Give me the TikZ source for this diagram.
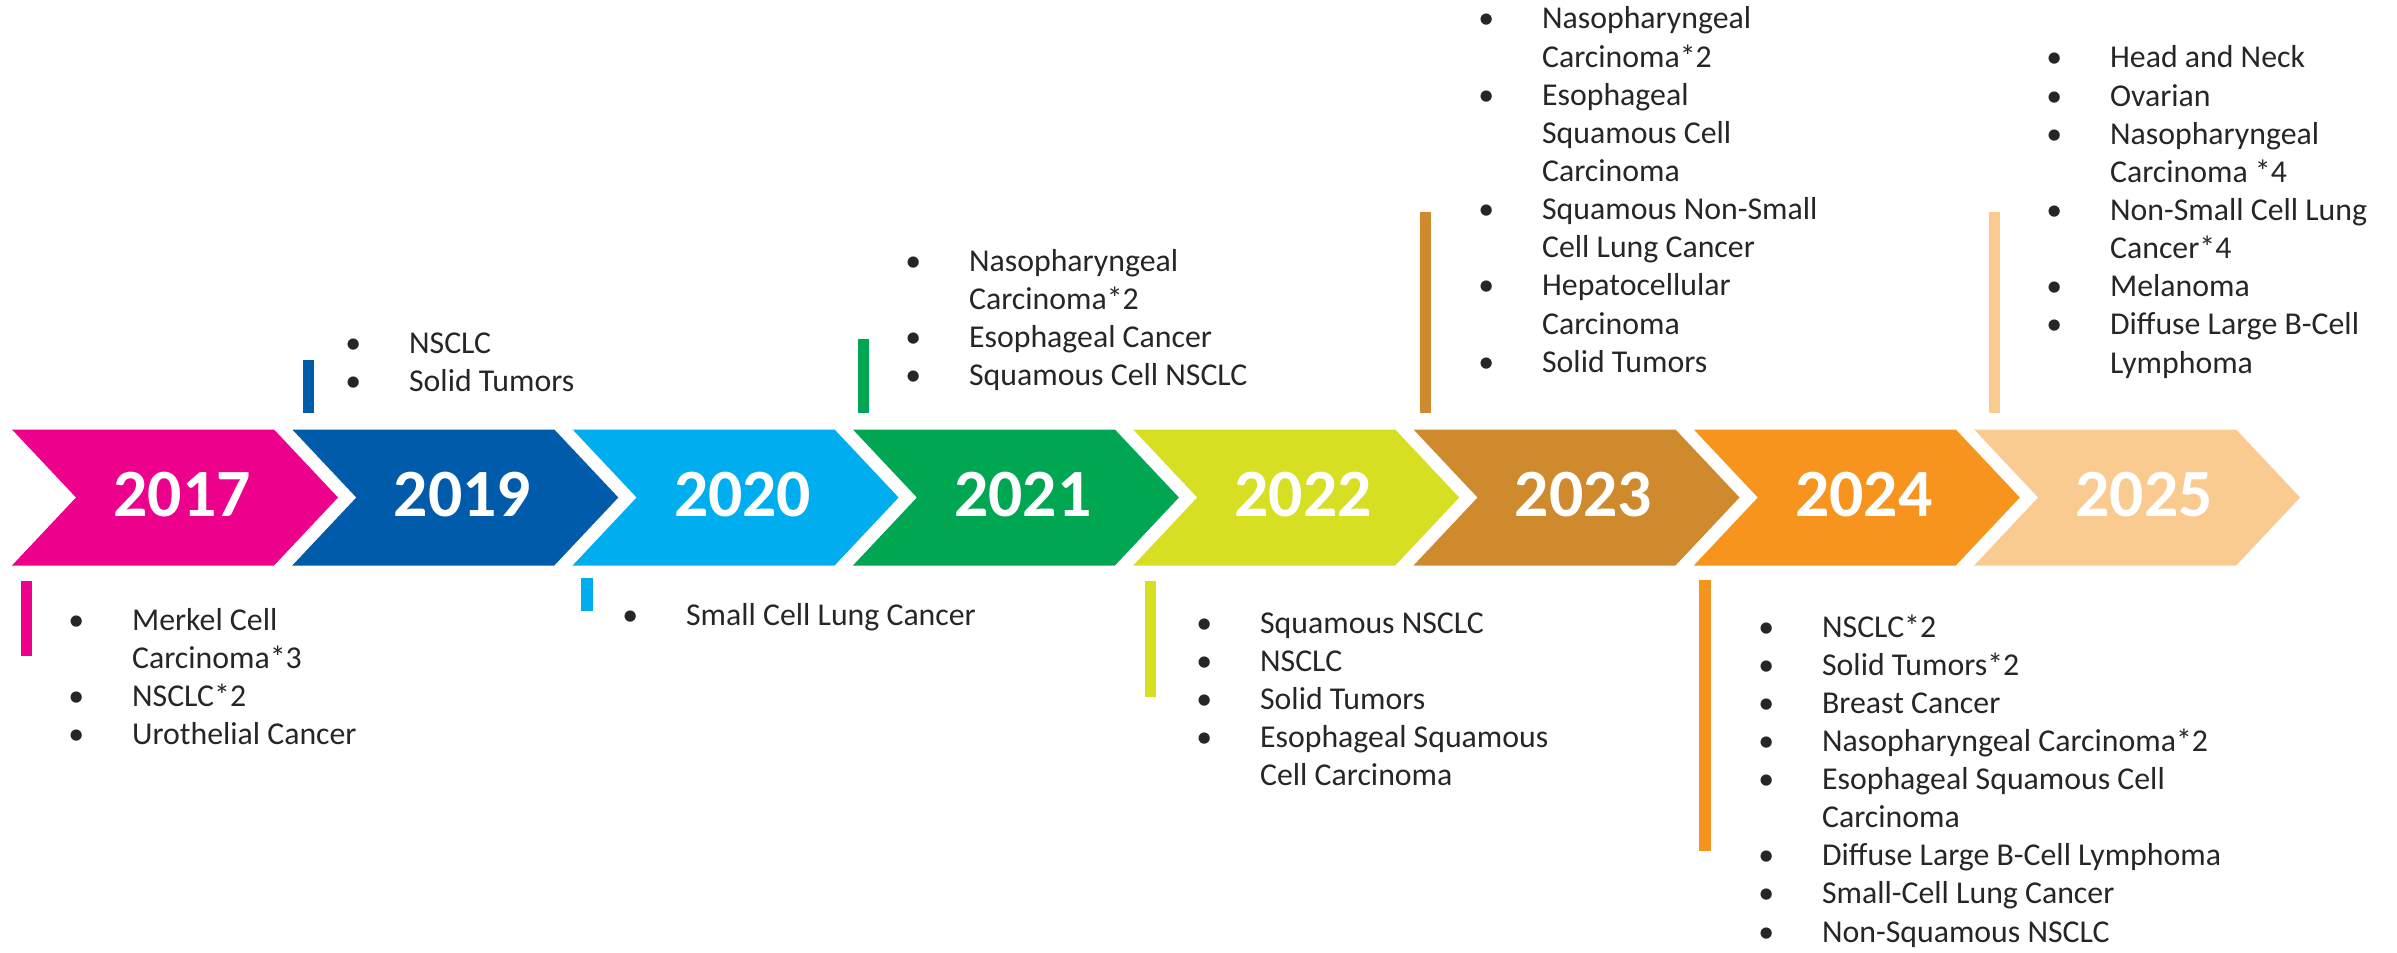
\documentclass[tikz,border=0pt]{standalone}
\usepackage{fontspec}
\setmainfont{Carlito}
\usetikzlibrary{positioning}
\definecolor{c2017}{HTML}{EC008C}
\definecolor{c2019}{HTML}{005BAA}
\definecolor{c2020}{HTML}{00AEEF}
\definecolor{c2021}{HTML}{00A651}
\definecolor{c2022}{HTML}{D7DF23}
\definecolor{c2023}{HTML}{CF8A2E}
\definecolor{c2024}{HTML}{F7941D}
\definecolor{c2025}{HTML}{FACB91}
\definecolor{txt}{HTML}{262626}
\newlength{\bulw}\setlength{\bulw}{36.3pt}
\newcommand{\itm}[1]{\makebox[\bulw][l]{\textbullet}#1}
\newcommand{\cnt}[1]{\makebox[\bulw]{}#1}
\newcommand{\blist}[1]{\begin{tabular}[t]{@{}l@{}}#1\end{tabular}}

\begin{document}
\begin{tikzpicture}[
  x=0.02cm, y=-0.02cm,
  yr/.style={font=\fontsize{38.5}{40}\selectfont\bfseries, text=white, inner sep=0pt},
  lst/.style={anchor=base west, inner sep=0pt, text=txt, font=\fontsize{18.1}{21.7}\selectfont}
]
  \useasboundingbox (0,0) rectangle (2397,953);
  % year chevrons
  \foreach \yr [count=\i from 0] in {2017,2019,2020,2021,2022,2023,2024,2025} {
    \pgfmathsetmacro{\L}{12+280.3*\i}
    \fill[c\yr] (\L,429.5) -- ++(262,0) -- ++(64,68) -- ++(-64,68) -- ++(-262,0) -- ++(64,-68) -- cycle;
    \node[yr] (y\yr) at (\L+170,495) {\yr};
  }
  % marker bars
  \fill[c2017] (21,581) rectangle (32,656);
  \fill[c2019] (303,360) rectangle (314,413);
  \fill[c2020] (581,578) rectangle (593,611);
  \fill[c2021] (858,339) rectangle (869,413);
  \fill[c2022] (1145,581) rectangle (1156,697);
  \fill[c2023] (1420,212) rectangle (1431,413);
  \fill[c2024] (1699,580) rectangle (1711,851);
  \fill[c2025] (1989,212) rectangle (2000,413);
  % indications
  \node[lst] (l2017) at (68,630) {\blist{\itm{Merkel Cell}\\\cnt{Carcinoma*3}\\\itm{NSCLC*2}\\\itm{Urothelial Cancer}}};
  \node[lst] (l2019) at (345,353) {\blist{\itm{NSCLC}\\\itm{Solid Tumors}}};
  \node[lst] (l2020) at (622,625) {\blist{\itm{Small Cell Lung Cancer}}};
  \node[lst] (l2021) at (905,271) {\blist{\itm{Nasopharyngeal}\\\cnt{Carcinoma*2}\\\itm{Esophageal Cancer}\\\itm{Squamous Cell NSCLC}}};
  \node[lst] (l2022) at (1196,633) {\blist{\itm{Squamous NSCLC}\\\itm{NSCLC}\\\itm{Solid Tumors}\\\itm{Esophageal Squamous}\\\cnt{Cell Carcinoma}}};
  \node[lst] (l2023) at (1478,29) {\blist{\itm{Nasopharyngeal}\\\cnt{Carcinoma*2}\\\itm{Esophageal}\\\cnt{Squamous Cell}\\\cnt{Carcinoma}\\\itm{Squamous Non-Small}\\\cnt{Cell Lung Cancer}\\\itm{Hepatocellular}\\\cnt{Carcinoma}\\\itm{Solid Tumors}}};
  \node[lst] (l2024) at (1758,637) {\blist{\itm{NSCLC*2}\\\itm{Solid Tumors*2}\\\itm{Breast Cancer}\\\itm{Nasopharyngeal Carcinoma*2}\\\itm{Esophageal Squamous Cell}\\\cnt{Carcinoma}\\\itm{Diffuse Large B-Cell Lymphoma}\\\itm{Small-Cell Lung Cancer}\\\itm{Non-Squamous NSCLC}}};
  \node[lst] (l2025) at (2046,68) {\blist{\itm{Head and Neck}\\\itm{Ovarian}\\\itm{Nasopharyngeal}\\\cnt{Carcinoma *4}\\\itm{Non-Small Cell Lung}\\\cnt{Cancer*4}\\\itm{Melanoma}\\\itm{Diffuse Large B-Cell}\\\cnt{Lymphoma}}};
\end{tikzpicture}
\end{document}
